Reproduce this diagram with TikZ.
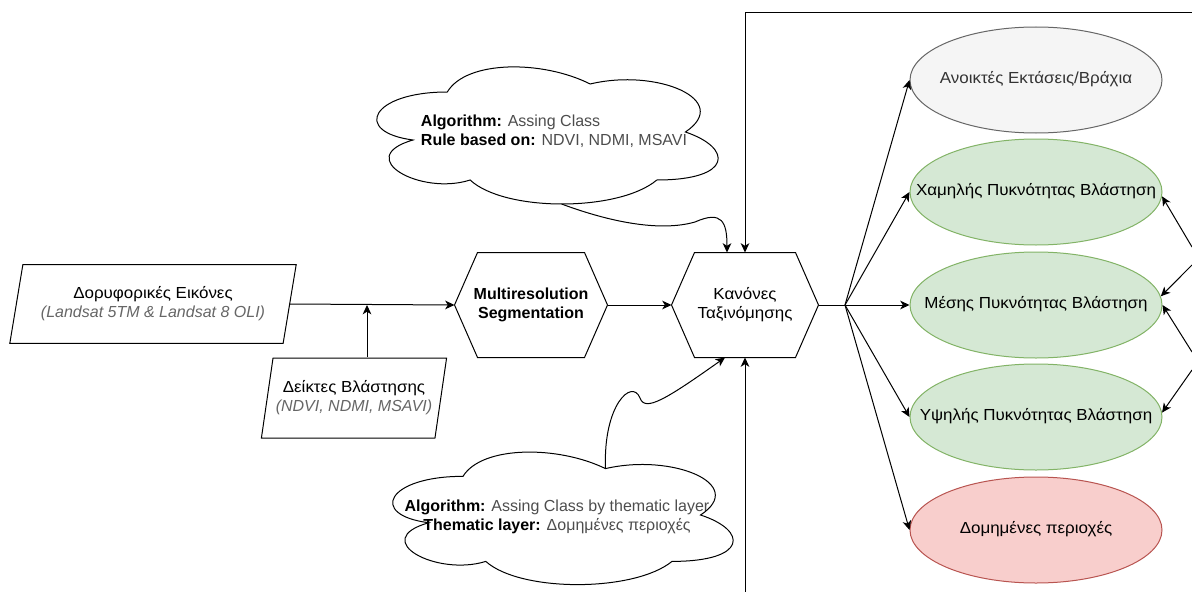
\documentclass[tikz,border=0pt]{standalone}
\usepackage{fontspec}
\setmainfont{Liberation Sans}
\newfontfamily\grfont[FakeStretch=1.06]{Liberation Sans}
\usetikzlibrary{shapes.geometric, arrows.meta, positioning}
\definecolor{opfill}{HTML}{F5F5F5}
\definecolor{opline}{HTML}{666666}
\definecolor{optext}{HTML}{333333}
\definecolor{vegfill}{HTML}{D5E8D4}
\definecolor{vegline}{HTML}{82B366}
\definecolor{bltfill}{HTML}{F8CECC}
\definecolor{bltline}{HTML}{B85450}
\definecolor{subgray}{HTML}{666666}
\definecolor{valgray}{HTML}{4D4D4D}
% text that takes no width, so the shape keeps its own size
\newcommand{\zw}[1]{\makebox[0pt]{\begin{tabular}{@{}c@{}}#1\end{tabular}}}
% cloud outline round a centre: #1 centre, #2 width, #3 height, #4 prefix
\newcommand{\drawcloud}[4]{%
  \begin{scope}[shift={(#1)}, x=#2, y=-#3]
    \draw (-0.25,-0.25) .. controls (-0.45,-0.25) and (-0.5,0) .. (-0.34,0.05)
      .. controls (-0.5,0.16) and (-0.32,0.4) .. (-0.19,0.3)
      .. controls (-0.1,0.5) and (0.2,0.5) .. (0.3,0.3)
      .. controls (0.5,0.3) and (0.5,0.1) .. (0.375,0)
      .. controls (0.5,-0.2) and (0.3,-0.4) .. (0.125,-0.3)
      .. controls (0,-0.45) and (-0.2,-0.45) .. cycle;
    \coordinate (#4-top) at (0.125,-0.3);
    \coordinate (#4-bot) at (0.05,0.45);
  \end{scope}}

\begin{document}
\begin{tikzpicture}[x=0.75pt, y=-0.75pt, line width=0.75pt,
  font=\fontsize{12}{14.4}\selectfont,
  >={Stealth[length=7pt, width=6.5pt, inset=2pt]},
  inbox/.style={trapezium, trapezium left angle=72, trapezium right angle=108,
    trapezium stretches=true, draw, align=center, inner sep=0pt},
  hexbox/.style={align=center, inner sep=0pt, minimum height=78pt,
    append after command={\pgfextra{\draw (\tikzlastnode.west)
      -- ([xshift=17.25pt]\tikzlastnode.north west) -- ([xshift=-17.25pt]\tikzlastnode.north east)
      -- (\tikzlastnode.east) -- ([xshift=-17.25pt]\tikzlastnode.south east)
      -- ([xshift=17.25pt]\tikzlastnode.south west) -- cycle;}}},
  classbox/.style={ellipse, draw, inner sep=0pt, minimum width=189pt, minimum height=79.5pt,
    font=\fontsize{12}{14.4}\grfont},
  notetext/.style={inner sep=0pt}]
  \useasboundingbox (0,0) rectangle (1192,592);

  % inputs
  \node[inbox, minimum width=215pt, minimum height=59pt] (sat) at (153,304)
    {{\grfont Δορυφορικές Εικόνες}\\{\itshape\color{subgray}(Landsat 5TM \& Landsat 8 OLI)}};
  \node[inbox, minimum width=139pt, minimum height=60pt] (vi) at (354,398)
    {{\grfont Δείκτες Βλάστησης}\\{\itshape\color{subgray}(NDVI, NDMI, MSAVI)}};

  % processing
  \node[hexbox, minimum width=114pt, font=\fontsize{12}{14.4}\selectfont\bfseries] (seg) at (531,305)
    {Multiresolution\\Segmentation};
  \node[hexbox, minimum width=109.5pt, font=\fontsize{12}{14.4}\grfont] (rules) at (745,305)
    {Κανόνες\\Ταξινόμησης};

  % notes
  \node[notetext, align=left] (rulenote) at (554,131)
    {\textbf{Algorithm:} {\color{valgray}Assing Class}\\
     \textbf{Rule based on:} {\color{valgray}NDVI, NDMI, MSAVI}};
  \drawcloud{[xshift=-8.6pt, yshift=-0.75pt]rulenote.center}{285.75pt}{120pt}{rc}
  \node[notetext, align=center] (thnote) at (557,517)
    {\textbf{Algorithm:} {\color{valgray}Assing Class by thematic layer}\\
     \textbf{Thematic layer:} {\color{valgray}Δομημένες περιοχές}};
  \drawcloud{[xshift=0.75pt, yshift=1.5pt]thnote.center}{285pt}{116pt}{tc}

  % classes
  \node[classbox, fill=opfill, draw=opline, text=optext] (open) at (1036,80) {\zw{Ανοικτές Εκτάσεις/Βράχια}};
  \node[classbox, fill=vegfill, draw=vegline] (low) at (1036,192) {\zw{Χαμηλής Πυκνότητας Βλάστηση}};
  \node[classbox, fill=vegfill, draw=vegline] (mid) at (1036,305) {\zw{Μέσης Πυκνότητας Βλάστηση}};
  \node[classbox, fill=vegfill, draw=vegline] (high) at (1036,417) {\zw{Υψηλής Πυκνότητας Βλάστηση}};
  \node[classbox, fill=bltfill, draw=bltline] (built) at (1036,530) {\zw{Δομημένες περιοχές}};

  % connectors
  \coordinate (vj) at (367,305);
  \coordinate (fan) at (845,305);
  \draw[->] (sat.east) -- (seg.west);
  \draw[->] (vi.north -| vj) -- (vj);
  \draw[->] (seg.east) -- (rules.west);
  \draw (rules.east) -- (fan);
  \foreach \c in {open,low,mid,high,built}
    \draw[->] (fan) -- (\c.west);

  \draw[->] (rc-bot) .. controls (610,222) and (660,232) .. (695,222)
    .. controls (722,210) and (727,222) .. ([xshift=-13.5pt]rules.north);
  \draw[->] (tc-top) .. controls (603,405) and (632,378) .. (640,398)
    .. controls (645,412) and (665,400) .. ([xshift=-15pt]rules.south);

  % loose ends at the border
  \coordinate (topR) at (1192,13);
  \coordinate (botS) at (745,592);
  \draw[->] (topR) -| (rules.north);
  \draw[->] (botS) -- (rules.south);

  \coordinate (r1) at (1192,247);
  \coordinate (r2) at (1192,265);
  \coordinate (r3) at (1192,352);
  \coordinate (r4) at (1192,370);
  \draw[->] (r1) -- (low.-2);
  \draw[->] (r2) -- (mid.4);
  \draw[->] (r3) -- (mid.east);
  \draw[->] (r4) -- (high.2);
\end{tikzpicture}
\end{document}
